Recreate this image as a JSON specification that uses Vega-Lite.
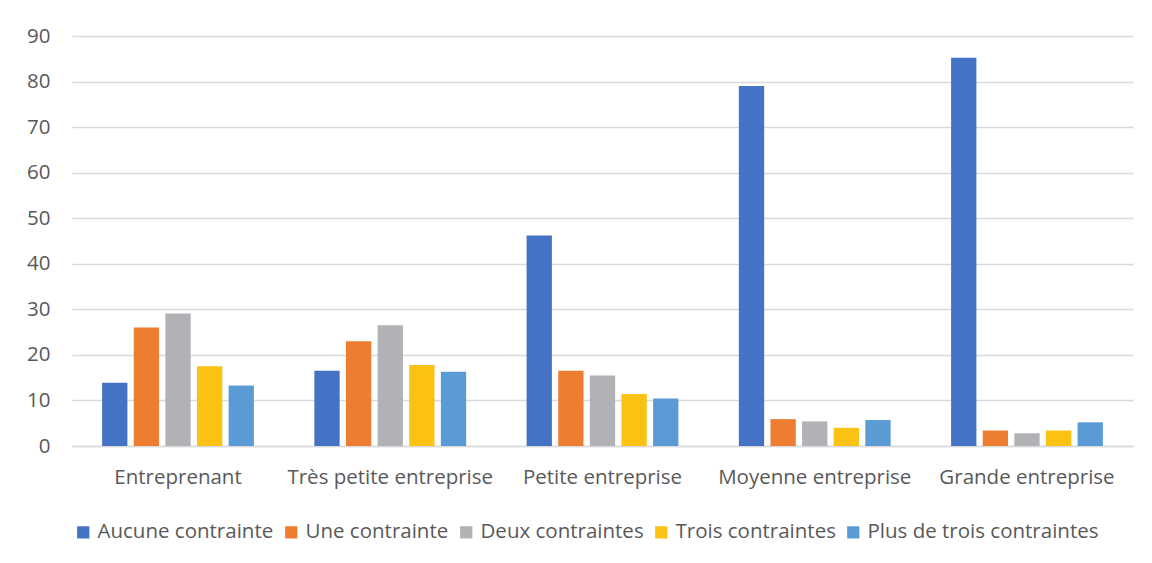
{
  "$schema": "https://vega.github.io/schema/vega-lite/v6.json",
  "autosize": {"type": "none"},
  "width": 1061,
  "height": 410,
  "padding": {"left": 72, "top": 36, "right": 19, "bottom": 117},
  "background": "white",
  "data": {"values": [
    {"taille": "Entreprenant", "contrainte": "Aucune contrainte", "v": 13.9},
    {"taille": "Entreprenant", "contrainte": "Une contrainte", "v": 26.0},
    {"taille": "Entreprenant", "contrainte": "Deux contraintes", "v": 29.1},
    {"taille": "Entreprenant", "contrainte": "Trois contraintes", "v": 17.5},
    {"taille": "Entreprenant", "contrainte": "Plus de trois contraintes", "v": 13.3},
    {"taille": "Très petite entreprise", "contrainte": "Aucune contrainte", "v": 16.5},
    {"taille": "Très petite entreprise", "contrainte": "Une contrainte", "v": 23.0},
    {"taille": "Très petite entreprise", "contrainte": "Deux contraintes", "v": 26.5},
    {"taille": "Très petite entreprise", "contrainte": "Trois contraintes", "v": 17.8},
    {"taille": "Très petite entreprise", "contrainte": "Plus de trois contraintes", "v": 16.3},
    {"taille": "Petite entreprise", "contrainte": "Aucune contrainte", "v": 46.2},
    {"taille": "Petite entreprise", "contrainte": "Une contrainte", "v": 16.5},
    {"taille": "Petite entreprise", "contrainte": "Deux contraintes", "v": 15.5},
    {"taille": "Petite entreprise", "contrainte": "Trois contraintes", "v": 11.4},
    {"taille": "Petite entreprise", "contrainte": "Plus de trois contraintes", "v": 10.4},
    {"taille": "Moyenne entreprise", "contrainte": "Aucune contrainte", "v": 79.0},
    {"taille": "Moyenne entreprise", "contrainte": "Une contrainte", "v": 5.9},
    {"taille": "Moyenne entreprise", "contrainte": "Deux contraintes", "v": 5.4},
    {"taille": "Moyenne entreprise", "contrainte": "Trois contraintes", "v": 4.0},
    {"taille": "Moyenne entreprise", "contrainte": "Plus de trois contraintes", "v": 5.7},
    {"taille": "Grande entreprise", "contrainte": "Aucune contrainte", "v": 85.2},
    {"taille": "Grande entreprise", "contrainte": "Une contrainte", "v": 3.4},
    {"taille": "Grande entreprise", "contrainte": "Deux contraintes", "v": 2.8},
    {"taille": "Grande entreprise", "contrainte": "Trois contraintes", "v": 3.4},
    {"taille": "Grande entreprise", "contrainte": "Plus de trois contraintes", "v": 5.2}
  ]},
  "mark": {"type": "bar"},
  "encoding": {
    "x": {
      "field": "taille", "type": "nominal",
      "sort": ["Entreprenant", "Très petite entreprise", "Petite entreprise", "Moyenne entreprise", "Grande entreprise"],
      "scale": {"paddingInner": 0.255, "paddingOuter": 0.127},
      "axis": {"title": null, "labelAngle": 0, "ticks": false, "domain": true, "domainColor": "#d9d9d9", "domainWidth": 1.5, "labelPadding": 21, "labelFontSize": 20.5, "labelColor": "#595959", "labelFont": "Open Sans", "labelLimit": 300}
    },
    "xOffset": {
      "field": "contrainte", "type": "nominal",
      "sort": ["Aucune contrainte", "Une contrainte", "Deux contraintes", "Trois contraintes", "Plus de trois contraintes"],
      "scale": {"paddingInner": 0.2, "paddingOuter": 0.1}
    },
    "y": {
      "field": "v", "type": "quantitative",
      "scale": {"domain": [0, 90]},
      "axis": {"title": null, "values": [0,10,20,30,40,50,60,70,80,90], "ticks": false, "domain": false, "gridColor": "#d9d9d9", "gridWidth": 1.5, "labelPadding": 22, "labelFontSize": 20.5, "labelColor": "#595959", "labelFont": "Open Sans"}
    },
    "color": {
      "field": "contrainte", "type": "nominal",
      "sort": ["Aucune contrainte", "Une contrainte", "Deux contraintes", "Trois contraintes", "Plus de trois contraintes"],
      "scale": {"range": ["#4472C4", "#ED7D31", "#B1B2B5", "#FBC113", "#5B9BD5"]},
      "legend": {"title": null, "orient": "none", "legendX": 1, "legendY": 486, "direction": "horizontal", "columns": 5, "symbolType": "square", "symbolSize": 150, "symbolStrokeWidth": 0, "labelFontSize": 20.5, "labelColor": "#595959", "labelFont": "Open Sans", "labelLimit": 400, "columnPadding": 7, "labelOffset": 4}
    }
  },
  "config": {"view": {"stroke": null}}
}
